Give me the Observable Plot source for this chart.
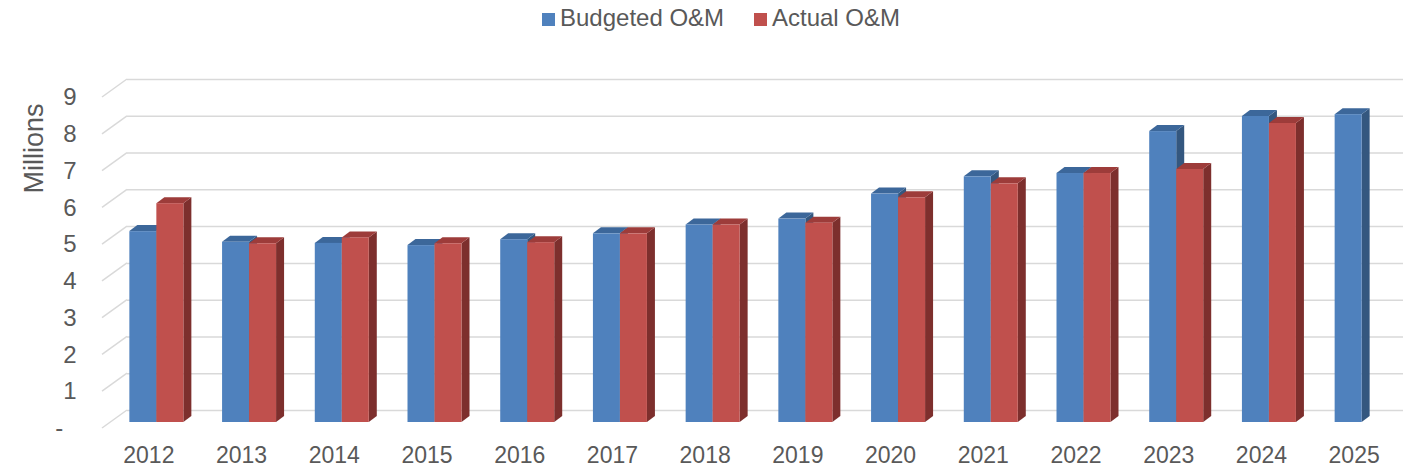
<!DOCTYPE html>
<html><head><meta charset="utf-8">
<script src="https://cdn.jsdelivr.net/npm/d3@7"></script>
<script src="https://cdn.jsdelivr.net/npm/@observablehq/plot@0.6"></script>
<style>
body{margin:0;background:#fff;overflow:hidden;font-family:"Liberation Sans",Arial,sans-serif;}
#legend{position:relative;height:34px;color:#595959;font-size:24px;}
.sw{position:absolute;top:13px;width:13px;height:13px;}
.lt{position:absolute;top:4px;line-height:28px;white-space:nowrap;}
g[aria-label^="y-axis"]{font-size:24px}
</style></head><body>
<div id="legend"></div><div id="chart"></div>
<script>
// ---- data ----
const years = ["2012","2013","2014","2015","2016","2017","2018","2019","2020","2021","2022","2023","2024","2025"];
const budgeted = [5.19, 4.90, 4.87, 4.81, 4.97, 5.13, 5.37, 5.53, 6.21, 6.68, 6.77, 7.91, 8.32, 8.37];
const actual   = [5.95, 4.86, 5.02, 4.86, 4.89, 5.13, 5.37, 5.42, 6.11, 6.49, 6.77, 6.88, 8.13, null];
const seriesNames = ["Budgeted O&M", "Actual O&M"];
const yTicks = [0,1,2,3,4,5,6,7,8,9];

// ---- styles ----
const colors = {front:["#4F81BD","#C0504D"], top:["#3C679A","#9D3C3A"], side:["#34577F","#7D2F2D"]};
const W = 1403, H = 435, ML = 102, MR = 3, MT = 63, MB = 41;
const wallDX = 25, wallDY = 18;       // depth of the back wall
const barOX = 8, barOY = 6;           // bar front plane offset
const barW = 27, barDX = 8, barDY = 6; // bar width and depth
const bandW = (W - ML - MR) / years.length;

const data = years.map((y, i) => ({year: y, budgeted: budgeted[i], actual: actual[i]}));
const keys = ["budgeted", "actual"];

// legend
const legend = document.getElementById("legend");
const legendPos = [[542, 560], [754, 772]];
seriesNames.forEach((n, i) => {
  const s = document.createElement("div"); s.className = "sw";
  s.style.left = legendPos[i][0] + "px"; s.style.background = colors.front[i];
  const t = document.createElement("div"); t.className = "lt";
  t.style.left = legendPos[i][1] + "px"; t.textContent = n;
  legend.append(s, t);
});

function diagonals(index, scales) {
  const {y} = scales;
  const g = d3.create("svg:g").attr("stroke", "#D9D9D9").attr("stroke-width", 1.5);
  for (const t of yTicks) {
    g.append("line").attr("x1", ML).attr("y1", y(t)).attr("x2", ML + wallDX).attr("y2", y(t) - wallDY);
  }
  return g.node();
}

function faces(s) {
  return (index, scales) => {
    const {x, y} = scales;
    const g = d3.create("svg:g");
    for (const d of data) {
      const v = d[keys[s]];
      if (v == null) continue;
      const c = x(d.year) + x.bandwidth() / 2;
      const xl = c + barOX - (s === 0 ? barW : 0), xr = xl + barW;
      const yt = y(v) - barOY, yb = y(0) - barOY;
      g.append("path").attr("fill", colors.side[s])
        .attr("d", `M${xr},${yt}L${xr + barDX},${yt - barDY}L${xr + barDX},${yb - barDY}L${xr},${yb}Z`);
      g.append("path").attr("fill", colors.top[s])
        .attr("d", `M${xl},${yt}L${xr},${yt}L${xr + barDX},${yt - barDY}L${xl + barDX},${yt - barDY}Z`);
    }
    return g.node();
  };
}

function fronts(s) {
  const left = bandW / 2 + barOX - (s === 0 ? barW : 0);
  return Plot.barY(data.filter(d => d[keys[s]] != null), {
    x: "year", y: keys[s], fill: colors.front[s],
    insetLeft: left, insetRight: bandW - left - barW, dy: -barOY
  });
}

const chart = Plot.plot({
  width: W, height: H,
  marginLeft: ML, marginRight: MR, marginTop: MT, marginBottom: MB,
  style: {fontFamily: '"Liberation Sans", Arial, sans-serif', fontSize: "23px", color: "#595959", background: "#fff"},
  x: {domain: years, padding: 0, round: false, tickSize: 0, tickPadding: 18, label: null},
  y: {domain: [0, 9], ticks: yTicks, tickSize: 0, tickPadding: 26, label: null,
      tickFormat: d => d === 0 ? "-\u00a0\u00a0" : String(d)},
  marks: [
    Plot.ruleY(yTicks, {dx: wallDX, dy: -wallDY, stroke: "#D9D9D9", strokeWidth: 1.5, strokeOpacity: 1}),
    diagonals,
    faces(0), fronts(0),
    faces(1), fronts(1),
    Plot.text(["Millions"], {text: d => d, frameAnchor: "top-left", rotate: -90, textAnchor: "middle",
      dx: 23 - ML, dy: 114 - MT, fontSize: 27, fill: "#595959"})
  ]
});
document.getElementById("chart").append(chart);
</script>
</body></html>
